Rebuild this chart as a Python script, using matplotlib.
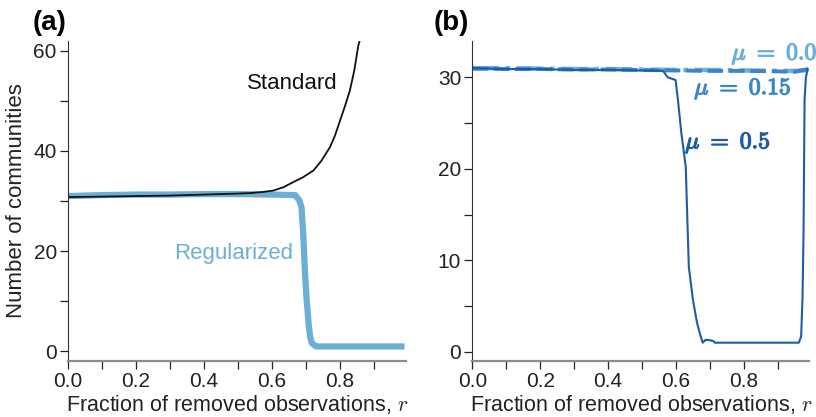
import numpy as np
import matplotlib
matplotlib.use("Agg")
from matplotlib import pyplot as plt
from matplotlib.ticker import MultipleLocator
import matplotlib.patheffects as pe

plt.rcParams['font.family'] = ['Liberation Sans', 'DejaVu Sans']
plt.rcParams['mathtext.fontset'] = 'cm'

# panel (a) data
r_std = [0.0, 0.1, 0.2, 0.3, 0.4, 0.5, 0.535, 0.57, 0.604, 0.635, 0.663, 0.69, 0.722,
         0.745, 0.771, 0.785, 0.80, 0.815, 0.829, 0.842, 0.854, 0.862]
standard = [30.8, 30.9, 31.0, 31.1, 31.3, 31.5, 31.6, 31.8, 32.1, 32.8, 33.8, 34.7, 36.1,
            38.0, 40.8, 43.0, 46.0, 49.0, 52.0, 56.0, 61.0, 63.0]

r_reg = [0.0, 0.1, 0.2, 0.3, 0.4, 0.5, 0.6, 0.668, 0.68, 0.687, 0.692, 0.697, 0.702,
         0.708, 0.712, 0.717, 0.73, 0.8, 0.9, 0.99]
regularized = [31.0, 31.2, 31.3, 31.3, 31.4, 31.4, 31.3, 31.2, 30.2, 28.8, 23.5, 16.0,
               10.3, 5.5, 3.0, 1.7, 1.0, 1.0, 1.0, 1.0]

# panel (b) data
r_b = [0.0, 0.1, 0.2, 0.3, 0.4, 0.5, 0.6, 0.7, 0.8, 0.9, 0.95, 0.99]
mu00 = [31.0, 31.0, 30.95, 30.9, 30.9, 30.85, 30.8, 30.8, 30.75, 30.7, 30.7, 30.8]
mu015 = [30.95, 30.9, 30.9, 30.85, 30.85, 30.8, 30.75, 30.7, 30.7, 30.65, 30.6, 30.9]

r_mu05 = [0.0, 0.1, 0.2, 0.3, 0.4, 0.5, 0.562, 0.576, 0.599, 0.606, 0.616, 0.629, 0.634,
          0.638, 0.65, 0.662, 0.672, 0.679, 0.687, 0.694, 0.709, 0.715, 0.8, 0.9, 0.962,
          0.969, 0.973, 0.976, 0.979, 0.983, 0.988]
mu05 = [31.0, 30.9, 30.9, 30.8, 30.8, 30.75, 30.7, 30.0, 29.7, 27.5, 23.9, 20.2, 14.0,
        9.3, 5.7, 3.2, 1.8, 1.0, 1.3, 1.3, 1.2, 1.0, 1.0, 1.0, 1.0,
        1.7, 6.0, 13.0, 27.5, 30.0, 30.9]

c_light = '#6baed6'
c_mid = '#3d85c6'
c_dark = '#1c5ca8'

fig = plt.figure(figsize=(8.16, 4.17), dpi=100)
ax1 = fig.add_axes([0.0833, 0.1343, 0.4137, 0.7681])
ax2 = fig.add_axes([0.5788, 0.1343, 0.4130, 0.7681])

for ax in (ax1, ax2):
    ax.spines['top'].set_visible(False)
    ax.spines['right'].set_visible(False)
    ax.spines['left'].set_color('#333333')
    ax.spines['bottom'].set_color('#8c8c8c')
    ax.spines['bottom'].set_linewidth(1.6)
    ax.set_xlim(0, 0.993)
    ax.xaxis.set_major_locator(MultipleLocator(0.2))
    ax.xaxis.set_minor_locator(MultipleLocator(0.1))
    ax.tick_params(which='both', direction='out', length=6, width=0.9,
                   labelsize=15, color='#222222', labelcolor='#222222', pad=2)
    ax.set_xlabel(r'Fraction of removed observations, $r$', fontsize=15.5,
                  color='#222222', va='baseline')
    ax.xaxis.set_label_coords(0.5, -0.155)

# panel (a)
ax1.plot(r_reg, regularized, color=c_light, lw=4.5, solid_capstyle='butt')
ax1.plot(r_std, standard, color='#111111', lw=1.3)
ax1.set_ylim(-1.9, 62)
ax1.yaxis.set_major_locator(MultipleLocator(20))
ax1.yaxis.set_minor_locator(MultipleLocator(10))
ax1.set_ylabel('Number of communities', fontsize=16, color='#222222', labelpad=5)
ax1.text(0.792, 53.4, 'Standard', fontsize=16, color='#111111', ha='right', va='center')
ax1.text(0.486, 19.6, 'Regularized', fontsize=16, color=c_light, ha='center', va='center')

# panel (b)
ax2.plot(r_b, mu00, color=c_light, lw=3.2, ls=(0, (6, 1.5, 1, 1.5)))
ax2.plot(r_b, mu015, color=c_mid, lw=2.8, ls=(0, (4, 1.5)))
ax2.plot(r_mu05, mu05, color=c_dark, lw=1.5)
ax2.set_ylim(-1, 34)
ax2.yaxis.set_major_locator(MultipleLocator(10))
ax2.yaxis.set_minor_locator(MultipleLocator(5))
labels_b = [(0.89, 32.6, r'$\mu\ =\ 0.0$', c_light),
            (0.797, 28.8, r'$\mu\ =\ 0.15$', c_mid),
            (0.753, 22.9, r'$\mu\ =\ 0.5$', c_dark)]
for x, y, s, c in labels_b:
    ax2.text(x, y, s, fontsize=17, color=c, ha='center', va='center',
             path_effects=[pe.withStroke(linewidth=0.9, foreground=c)])

fig.text(0.040, 0.975, '(a)', fontsize=20, fontweight='bold', va='top', ha='left')
fig.text(0.531, 0.975, '(b)', fontsize=20, fontweight='bold', va='top', ha='left')

fig.savefig('out.png', dpi=100)
